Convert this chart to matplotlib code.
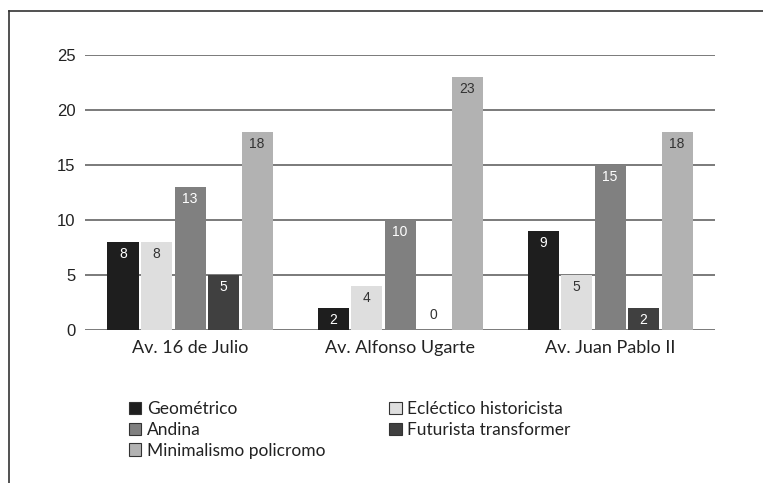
import matplotlib
matplotlib.use('Agg')
import matplotlib.pyplot as plt
from matplotlib.lines import Line2D
import matplotlib.patches as mpatches
import numpy as np

# Data
categories = ['Av. 16 de Julio', 'Av. Alfonso Ugarte', 'Av. Juan Pablo II']
series = ['Geométrico', 'Ecléctico historicista', 'Andina',
          'Futurista transformer', 'Minimalismo policromo']
values = [
    [8, 2, 9],     # Geométrico
    [8, 4, 5],     # Ecléctico historicista
    [13, 10, 15],  # Andina
    [5, 0, 2],     # Futurista transformer
    [18, 23, 18],  # Minimalismo policromo
]
yticks = [0, 5, 10, 15, 20, 25]

colors = ['#1e1e1e', '#dedede', '#808080', '#404040', '#b2b2b2']
label_colors = ['white', '#333333', 'white', 'white', '#333333']

TEXT_FONT = 'Lato'
NUM_FONT = 'Liberation Sans'

fig = plt.figure(figsize=(7.63, 4.83), dpi=100)
ax = fig.add_axes([85 / 763, 1 - 330 / 483, 630 / 763, 275 / 483])

x = np.arange(len(categories))
bar_w = 31 / 210
step = 33.5 / 210
for i, (name, vals) in enumerate(zip(series, values)):
    xs = x + (i - 2) * step
    ax.bar(xs, vals, width=bar_w, color=colors[i], zorder=3, label=name)
    for xi, v in zip(xs, vals):
        if v == 0:
            ax.text(xi, 1.35, str(v), ha='center', va='center', fontsize=10,
                    family=NUM_FONT, color='#333333', zorder=4)
        else:
            ax.text(xi, v - 1.05, str(v), ha='center', va='center', fontsize=10,
                    family=NUM_FONT, color=label_colors[i], zorder=4)

ax.set_xlim(-0.5, 2.5)
ax.set_ylim(0, 25)
ax.set_yticks(yticks)
ax.set_yticklabels([str(t) for t in yticks], family=NUM_FONT, fontsize=12,
                   color='#222222')
ax.set_xticks(x)
ax.set_xticklabels(categories, family=TEXT_FONT, fontsize=13, color='#222222')
ax.tick_params(length=0, axis='y', pad=7)
ax.tick_params(length=0, axis='x', pad=7)
ax.grid(axis='y', color='#7a7a7a', linewidth=1.4, zorder=1)
ax.set_axisbelow(True)
for s in ax.spines.values():
    s.set_visible(False)

# legend, row-major order like the original
handles = [mpatches.Patch(facecolor=c, edgecolor='#333333', linewidth=0.8, label=n)
           for c, n in zip(colors, series)]
order = [0, 2, 4, 1, 3]
fig.legend([handles[k] for k in order], [series[k] for k in order],
           ncol=2, loc='upper left', bbox_to_anchor=(122 / 763, 1 - 394 / 483),
           frameon=False, prop={'family': TEXT_FONT, 'size': 12.5},
           handlelength=0.72, handleheight=0.72, handletextpad=0.3,
           labelspacing=0.28, columnspacing=3.7, borderaxespad=0)
for t in fig.legends[0].get_texts():
    t.set_color('#222222')

# outer frame: left and top edges
fig.add_artist(Line2D([9 / 763, 9 / 763], [0, 1 - 11 / 483], color='#333333',
                      linewidth=1.2, transform=fig.transFigure))
fig.add_artist(Line2D([9 / 763, 1], [1 - 11 / 483, 1 - 11 / 483], color='#333333',
                      linewidth=1.2, transform=fig.transFigure))

fig.savefig('out.png', dpi=100)
